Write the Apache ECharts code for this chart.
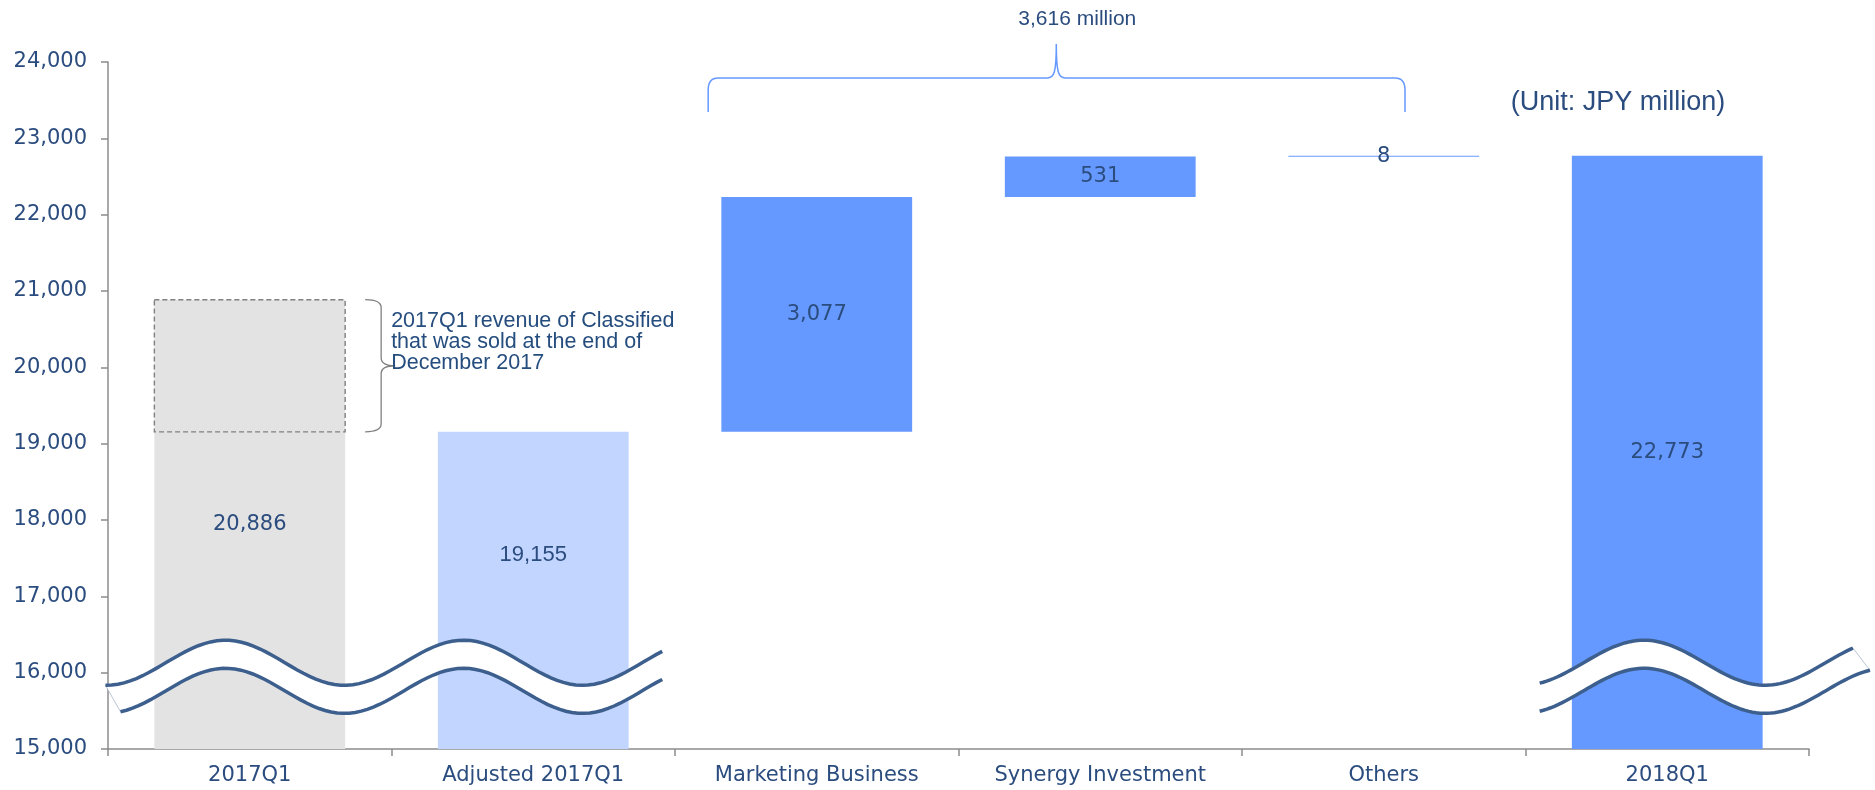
<!DOCTYPE html>
<html>
<head>
<meta charset="utf-8">
<script src="https://cdn.jsdelivr.net/npm/echarts@6/dist/echarts.min.js"></script>
<style>
  html, body { margin: 0; padding: 0; background: #ffffff; }
  #chart { width: 1875px; height: 790px; }
</style>
</head>
<body>
<div id="chart"></div>
<script>
// ---- Revenue bridge data (JPY million) ----
const categories = ['2017Q1', 'Adjusted 2017Q1', 'Marketing Business', 'Synergy Investment', 'Others', '2018Q1'];
const revenue2017Q1 = 20886;
const adjusted2017Q1 = 19155;          // 2017Q1 excluding Classified
const increments = [3077, 531, 8];     // Marketing Business, Synergy Investment, Others
const revenue2018Q1 = 22773;
const totalIncrease = 3616;

// ---- Value axis ----
const yMin = 15000;
const yMax = 24000;
const yStep = 1000;

// ---- Styling ----
const TEXT_BLUE = '#2b4c7e';
const AXIS_GREY = '#8c8c8c';
const BAR_COLORS = ['#e3e3e3', '#c2d5fe', '#6699ff', '#6699ff', '#6699ff', '#6699ff'];
const BAR_RATIO = 0.673;
const LABEL_SHIFT = [0, -35, 0, 0, 0, 0];   // vertical nudge of the value labels (px)
const LABEL_FONTS = [
  ['DejaVu Sans', 21], ['Liberation Sans', 22], ['DejaVu Sans', 21],
  ['DejaVu Sans', 21], ['DejaVu Sans', 21], ['DejaVu Sans', 21]
];
const WAVE_COLOR = '#3d5f8e';

// Axis-break ribbons, positioned on the hidden category-unit x axis
const BREAK_CENTERS = [16130, 15762];
const BREAK_AMP = 295;
const BREAKS = [
  { topFrom: -0.509, bottomFrom: -0.456, topTo: 1.455, bottomTo: 1.455, crest: -0.086, half: 0.42, slant: 'left' },
  { topFrom: 4.55, bottomFrom: 4.55, topTo: 5.655, bottomTo: 5.715, crest: 4.918, half: 0.427, slant: 'right' }
];
// Bracket over the three growth drivers
const BRACE = { left: 1.617, tip: 2.845, right: 4.075, endValue: 23345, lineValue: 23790, tipValue: 24236, textValue: 24564 };
const UNIT_POS = { x: 4.826, y: 23463 };

const fmt = v => Number(v).toLocaleString('en-US');

// Floating bars: [category index, low, high, shown value]
const barData = [];
barData.push([0, yMin, revenue2017Q1, revenue2017Q1]);
barData.push([1, yMin, adjusted2017Q1, adjusted2017Q1]);
let running = adjusted2017Q1;
increments.forEach((v, k) => {
  barData.push([2 + k, running, running + v, v]);
  running += v;
});
barData.push([5, yMin, revenue2018Q1, revenue2018Q1]);

function renderBar(params, api) {
  const i = api.value(0);
  const low = api.value(1);
  const high = api.value(2);
  const shown = api.value(3);
  const pTop = api.coord([i, high]);
  const pBot = api.coord([i, low]);
  const w = api.size([1, 0])[0] * BAR_RATIO;
  const left = pTop[0] - w / 2;
  const h = Math.max(pBot[1] - pTop[1], 1);
  const kids = [{
    type: 'rect',
    shape: { x: left, y: pTop[1], width: w, height: h },
    style: { fill: BAR_COLORS[i] }
  }];
  if (i === 0) {
    // portion that belonged to the divested Classified business
    const pSold = api.coord([0, adjusted2017Q1]);
    const yT = pTop[1], yB = pSold[1], yM = (yT + yB) / 2;
    kids.push({
      type: 'rect',
      shape: { x: left, y: yT, width: w, height: yB - yT },
      style: { fill: 'none', stroke: '#808080', lineWidth: 1.4, lineDash: [5, 3] }
    });
    const right = left + w;
    const x0 = right + 20, x1 = right + 36, x2 = right + 50;
    kids.push({
      type: 'path',
      shape: {
        pathData: 'M' + x0 + ' ' + yT + ' Q' + x1 + ' ' + yT + ' ' + x1 + ' ' + (yT + 8) +
          ' L' + x1 + ' ' + (yM - 8) + ' Q' + x1 + ' ' + yM + ' ' + x2 + ' ' + yM +
          ' Q' + x1 + ' ' + yM + ' ' + x1 + ' ' + (yM + 8) +
          ' L' + x1 + ' ' + (yB - 8) + ' Q' + x1 + ' ' + yB + ' ' + x0 + ' ' + yB
      },
      style: { fill: 'none', stroke: '#808080', lineWidth: 1.3 }
    });
    kids.push({
      type: 'text',
      x: right + 46,
      y: yM - 24,
      style: {
        text: '2017Q1 revenue of Classified\nthat was sold at the end of\nDecember 2017',
        fontSize: 21.5, fontFamily: 'Liberation Sans', lineHeight: 21,
        fill: '#254d7e', align: 'left', verticalAlign: 'middle'
      }
    });
  }
  kids.push({
    type: 'text',
    x: pTop[0],
    y: pTop[1] + h / 2 + LABEL_SHIFT[i],
    style: {
      text: fmt(shown), fontSize: LABEL_FONTS[i][1], fontFamily: LABEL_FONTS[i][0],
      fill: TEXT_BLUE, align: 'center', verticalAlign: 'middle'
    }
  });
  return { type: 'group', children: kids };
}

function wave(api, from, to, center, b) {
  const pts = [];
  const n = 90;
  for (let k = 0; k <= n; k++) {
    const x = from + (to - from) * k / n;
    const v = center + BREAK_AMP * Math.cos(Math.PI * (x - b.crest) / b.half);
    pts.push(api.coord([x, v]));
  }
  return pts;
}

function renderBreaks(params, api) {
  const kids = [];
  BREAKS.forEach(b => {
    const top = wave(api, b.topFrom, b.topTo, BREAK_CENTERS[0], b);
    const bot = wave(api, b.bottomFrom, b.bottomTo, BREAK_CENTERS[1], b);
    kids.push({
      type: 'polygon',
      shape: { points: top.concat(bot.slice().reverse()) },
      style: { fill: '#ffffff' }
    });
    const a = b.slant === 'left' ? [top[0], bot[0]] : [top[top.length - 1], bot[bot.length - 1]];
    kids.push({
      type: 'line',
      shape: { x1: a[0][0], y1: a[0][1], x2: a[1][0], y2: a[1][1] },
      style: { stroke: '#a9b6ca', lineWidth: 0.8 }
    });
    kids.push({ type: 'polyline', shape: { points: top }, style: { fill: 'none', stroke: WAVE_COLOR, lineWidth: 3.5 } });
    kids.push({ type: 'polyline', shape: { points: bot }, style: { fill: 'none', stroke: WAVE_COLOR, lineWidth: 3.5 } });
  });
  return { type: 'group', children: kids };
}

function renderNotes(params, api) {
  const L = api.coord([BRACE.left, BRACE.endValue]);
  const R = api.coord([BRACE.right, BRACE.endValue]);
  const T = api.coord([BRACE.tip, BRACE.tipValue]);
  const Hy = api.coord([BRACE.tip, BRACE.lineValue])[1];
  const Tx = T[0], Ty = T[1];
  const d =
    'M' + L[0] + ' ' + L[1] +
    ' L' + L[0] + ' ' + (Hy + 12) +
    ' Q' + L[0] + ' ' + Hy + ' ' + (L[0] + 10) + ' ' + Hy +
    ' L' + (Tx - 9) + ' ' + Hy +
    ' C' + (Tx - 2) + ' ' + Hy + ' ' + Tx + ' ' + (Hy - 6) + ' ' + Tx + ' ' + Ty +
    ' C' + Tx + ' ' + (Hy - 6) + ' ' + (Tx + 2) + ' ' + Hy + ' ' + (Tx + 9) + ' ' + Hy +
    ' L' + (R[0] - 10) + ' ' + Hy +
    ' Q' + R[0] + ' ' + Hy + ' ' + R[0] + ' ' + (Hy + 12) +
    ' L' + R[0] + ' ' + R[1];
  const txt = api.coord([BRACE.tip, BRACE.textValue]);
  const unit = api.coord([UNIT_POS.x, UNIT_POS.y]);
  return {
    type: 'group',
    children: [
      { type: 'path', shape: { pathData: d }, style: { fill: 'none', stroke: '#6699ff', lineWidth: 1.5 } },
      {
        type: 'text', x: txt[0] + 21, y: txt[1],
        style: { text: fmt(totalIncrease) + ' million', fontSize: 21, fontFamily: 'Liberation Sans',
                 fill: TEXT_BLUE, align: 'center', verticalAlign: 'middle' }
      },
      {
        type: 'text', x: unit[0], y: unit[1],
        style: { text: '(Unit: JPY million)', fontSize: 27, fontFamily: 'Liberation Sans',
                 fill: TEXT_BLUE, align: 'center', verticalAlign: 'middle' }
      }
    ]
  };
}

const chart = echarts.init(document.getElementById('chart'));
chart.setOption({
  animation: false,
  backgroundColor: '#ffffff',
  grid: { left: 108, right: 66, top: 62, bottom: 41 },
  xAxis: [
    {
      type: 'category',
      data: categories,
      axisLine: { show: true, onZero: false, lineStyle: { color: AXIS_GREY, width: 1.5 } },
      axisTick: { show: true, length: 7, interval: 0, lineStyle: { color: AXIS_GREY, width: 1.5 } },
      axisLabel: { color: TEXT_BLUE, fontSize: 21, fontFamily: 'DejaVu Sans', margin: 16, interval: 0 },
      splitLine: { show: false }
    },
    { type: 'value', min: -0.5, max: 5.5, show: false }
  ],
  yAxis: {
    type: 'value',
    min: yMin,
    max: yMax,
    interval: yStep,
    axisLine: { show: true, onZero: false, lineStyle: { color: AXIS_GREY, width: 1.5 } },
    axisTick: { show: true, length: 7, lineStyle: { color: AXIS_GREY, width: 1.5 } },
    axisLabel: { color: TEXT_BLUE, fontSize: 21, fontFamily: 'DejaVu Sans', margin: 21, formatter: v => fmt(v) },
    splitLine: { show: false }
  },
  series: [
    { type: 'custom', name: 'Revenue', xAxisIndex: 0, yAxisIndex: 0, data: barData, renderItem: renderBar, z: 2, silent: true },
    { type: 'custom', name: 'Axis break', xAxisIndex: 1, yAxisIndex: 0, data: [[0, yMin]], renderItem: renderBreaks, z: 5, silent: true },
    { type: 'custom', name: 'Notes', xAxisIndex: 1, yAxisIndex: 0, data: [[0, yMin]], renderItem: renderNotes, z: 6, silent: true }
  ]
});
</script>
</body>
</html>
